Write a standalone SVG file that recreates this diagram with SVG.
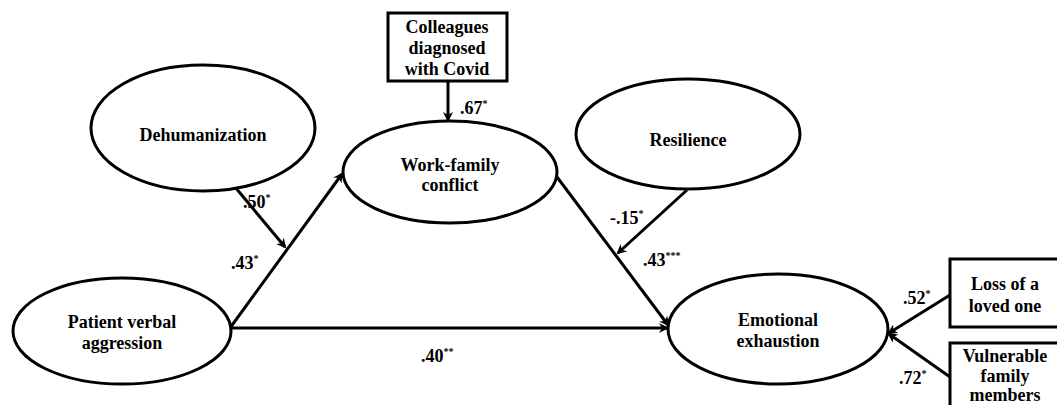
<svg xmlns="http://www.w3.org/2000/svg" width="1057" height="405" viewBox="0 0 1057 405">
<style>
.n{fill:#fff;stroke:#000;stroke-width:3}
.t{font-family:'Liberation Serif','Times New Roman','DejaVu Serif',serif;font-weight:700;font-size:18px;text-anchor:middle;fill:#000}
.l{font-family:'Liberation Serif','Times New Roman','DejaVu Serif',serif;font-weight:700;font-size:18px;fill:#000}
.s{font-size:10px}
.c{stroke:#000;stroke-width:3;fill:none}
</style>
<defs>
<marker id="a" markerWidth="10" markerHeight="10" refX="8" refY="5" orient="auto" markerUnits="userSpaceOnUse">
<path d="M0,0 L10,5 L0,10 L3,5 Z" fill="#000"/>
</marker>
</defs>
<g id="connectors">
<line class="c" x1="448" y1="81" x2="448" y2="120" marker-end="url(#a)"/>
<line class="c" x1="230" y1="328" x2="342" y2="174" marker-end="url(#a)"/>
<line class="c" x1="235" y1="187" x2="285" y2="247" marker-end="url(#a)"/>
<line class="c" x1="557" y1="177" x2="668" y2="325" marker-end="url(#a)"/>
<line class="c" x1="687" y1="190" x2="618" y2="253" marker-end="url(#a)"/>
<line class="c" x1="230" y1="328" x2="667" y2="328" marker-end="url(#a)"/>
<line class="c" x1="950" y1="295" x2="889" y2="333" marker-end="url(#a)"/>
<line class="c" x1="950" y1="377" x2="889" y2="334" marker-end="url(#a)"/>
<text class="l" x="460" y="114">.67<tspan class="s" dy="-7">*</tspan></text>
<text class="l" x="243" y="208">.50<tspan class="s" dy="-7">*</tspan></text>
<text class="l" x="231" y="269">.43<tspan class="s" dy="-7">*</tspan></text>
<text class="l" x="610" y="224">-.15<tspan class="s" dy="-7">*</tspan></text>
<text class="l" x="643" y="266">.43<tspan class="s" dy="-7">***</tspan></text>
<text class="l" x="421" y="362">.40<tspan class="s" dy="-7">**</tspan></text>
<text class="l" x="903" y="304">.52<tspan class="s" dy="-7">*</tspan></text>
<text class="l" x="899" y="384">.72<tspan class="s" dy="-7">*</tspan></text>
</g>
<g id="colleagues">
<rect class="n" x="388" y="13" width="119" height="68"/>
<text class="t" x="447" y="33">Colleagues</text>
<text class="t" x="447" y="54">diagnosed</text>
<text class="t" x="447" y="75">with Covid</text>
</g>
<g id="dehumanization">
<ellipse class="n" cx="203" cy="128" rx="112" ry="63"/>
<text class="t" x="203" y="141">Dehumanization</text>
</g>
<g id="workfamily">
<ellipse class="n" cx="450" cy="172" rx="107" ry="51"/>
<text class="t" x="450" y="171">Work-family</text>
<text class="t" x="450" y="191">conflict</text>
</g>
<g id="resilience">
<ellipse class="n" cx="688" cy="134" rx="112" ry="55"/>
<text class="t" x="688" y="146">Resilience</text>
</g>
<g id="patient">
<ellipse class="n" cx="122" cy="331" rx="109" ry="53"/>
<text class="t" x="122" y="328">Patient verbal</text>
<text class="t" x="122" y="349">aggression</text>
</g>
<g id="emotional">
<ellipse class="n" cx="778" cy="329" rx="110" ry="55"/>
<text class="t" x="778" y="326">Emotional</text>
<text class="t" x="778" y="347">exhaustion</text>
</g>
<g id="loss">
<rect class="n" x="950" y="259" width="120" height="68"/>
<text class="t" x="1005" y="290">Loss of a</text>
<text class="t" x="1005" y="312">loved one</text>
</g>
<g id="vulnerable">
<rect class="n" x="950" y="343" width="120" height="80"/>
<text class="t" x="1005" y="362">Vulnerable</text>
<text class="t" x="1005" y="382">family</text>
<text class="t" x="1005" y="401">members</text>
</g>
</svg>
